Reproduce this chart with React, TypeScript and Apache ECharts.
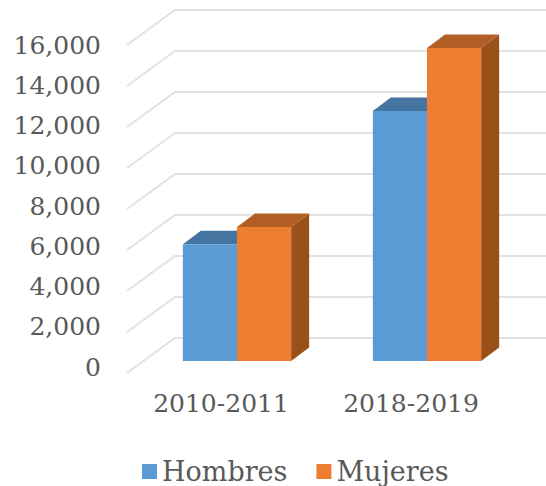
import React, { useEffect, useRef } from "react";
import * as echarts from "echarts";

const categories = ["2010-2011", "2018-2019"];
const hombres = [5700, 12200];
const mujeres = [6540, 15270];
const yTicks = [0, 2000, 4000, 6000, 8000, 10000, 12000, 14000, 16000];

const FONT = "DejaVu Serif";
const TEXT = "#595959";

function barSeries(name: string, values: number[], offset: number, front: string, top: string, side: string) {
  return {
    name,
    type: "custom",
    coordinateSystem: "cartesian2d",
    clip: false,
    z: 3,
    itemStyle: { color: front },
    encode: { x: 0, y: 1 },
    data: values.map((v, i) => [i, v]),
    renderItem: (_p: any, api: any) => {
      const bw = api.size([1, 0])[0] * 0.285;
      const c = api.coord([api.value(0), api.value(1)]);
      const b = api.coord([api.value(0), 0]);
      const x0 = c[0] + offset * bw;
      const x1 = x0 + bw;
      const dx = 18;
      const dy = -13.5;
      return {
        type: "group",
        children: [
          { type: "polygon", shape: { points: [[x1, c[1]], [x1 + dx, c[1] + dy], [x1 + dx, b[1] + dy], [x1, b[1]]] }, style: { fill: side } },
          { type: "polygon", shape: { points: [[x0, c[1]], [x0 + dx, c[1] + dy], [x1 + dx, c[1] + dy], [x1, c[1]]] }, style: { fill: top } },
          { type: "rect", shape: { x: x0, y: c[1], width: bw, height: b[1] - c[1] }, style: { fill: front } },
        ],
      };
    },
  };
}

export default function App() {
  const ref = useRef<HTMLDivElement>(null);
  useEffect(() => {
    document.body.style.margin = "0";
    const chart = echarts.init(ref.current!, null, { renderer: "svg" });
    chart.setOption({
      animation: false,
      backgroundColor: "#ffffff",
      grid: [
        { left: 142, right: 24, top: 33, bottom: 125 },
        { left: 126, width: 380, top: 45, bottom: 119 },
      ],
      legend: {
        data: ["Hombres", "Mujeres"],
        top: 453,
        left: 137,
        icon: "rect",
        itemWidth: 15,
        itemHeight: 15,
        itemGap: 29,
        textStyle: { fontFamily: FONT, fontSize: 27, color: TEXT },
      },
      xAxis: [
        {
          type: "category",
          data: categories,
          axisLine: { show: false },
          axisTick: { show: false },
          axisLabel: { show: false },
        },
        {
          type: "category",
          gridIndex: 1,
          data: categories,
          axisLine: { show: false },
          axisTick: { show: false },
          axisLabel: { fontFamily: FONT, fontSize: 25, color: TEXT, margin: 24 },
        },
      ],
      yAxis: [
        {
          type: "value",
          min: 0,
          max: 16000,
          interval: 2000,
          splitLine: { show: false },
          axisLine: { show: false },
          axisTick: { show: false },
          axisLabel: { show: false },
        },
        {
          type: "value",
          gridIndex: 1,
          min: 0,
          max: 16000,
          interval: 2000,
          splitLine: { show: false },
          axisLine: { show: false },
          axisTick: { show: false },
          axisLabel: {
            fontFamily: FONT,
            fontSize: 25,
            color: TEXT,
            margin: 25,
            formatter: (v: number) => v.toLocaleString("en-US"),
          },
        },
      ],
      series: [
        {
          name: "grid",
          type: "custom",
          coordinateSystem: "cartesian2d",
          clip: false,
          z: 1,
          encode: { x: 0, y: 1 },
          data: yTicks.map((v) => [0, v]),
          renderItem: (_p: any, api: any) => {
            const p = api.coord([0, api.value(1)]);
            const band = api.size([1, 0])[0];
            const x = p[0] - band / 2;
            const y = p[1];
            return {
              type: "polyline",
              shape: { points: [[x - 15, y + 12], [x + 33, y - 23], [api.getWidth(), y - 23]] },
              style: { stroke: "#e2e2e2", lineWidth: 2, fill: "none" },
            };
          },
        },
        barSeries("Hombres", hombres, -1, "#5B9BD5", "#44749F", "#44749F"),
        barSeries("Mujeres", mujeres, 0, "#ED7D31", "#B25F25", "#9A5019"),
      ],
    });
    return () => chart.dispose();
  }, []);
  return <div ref={ref} style={{ width: 546, height: 486 }} />;
}
